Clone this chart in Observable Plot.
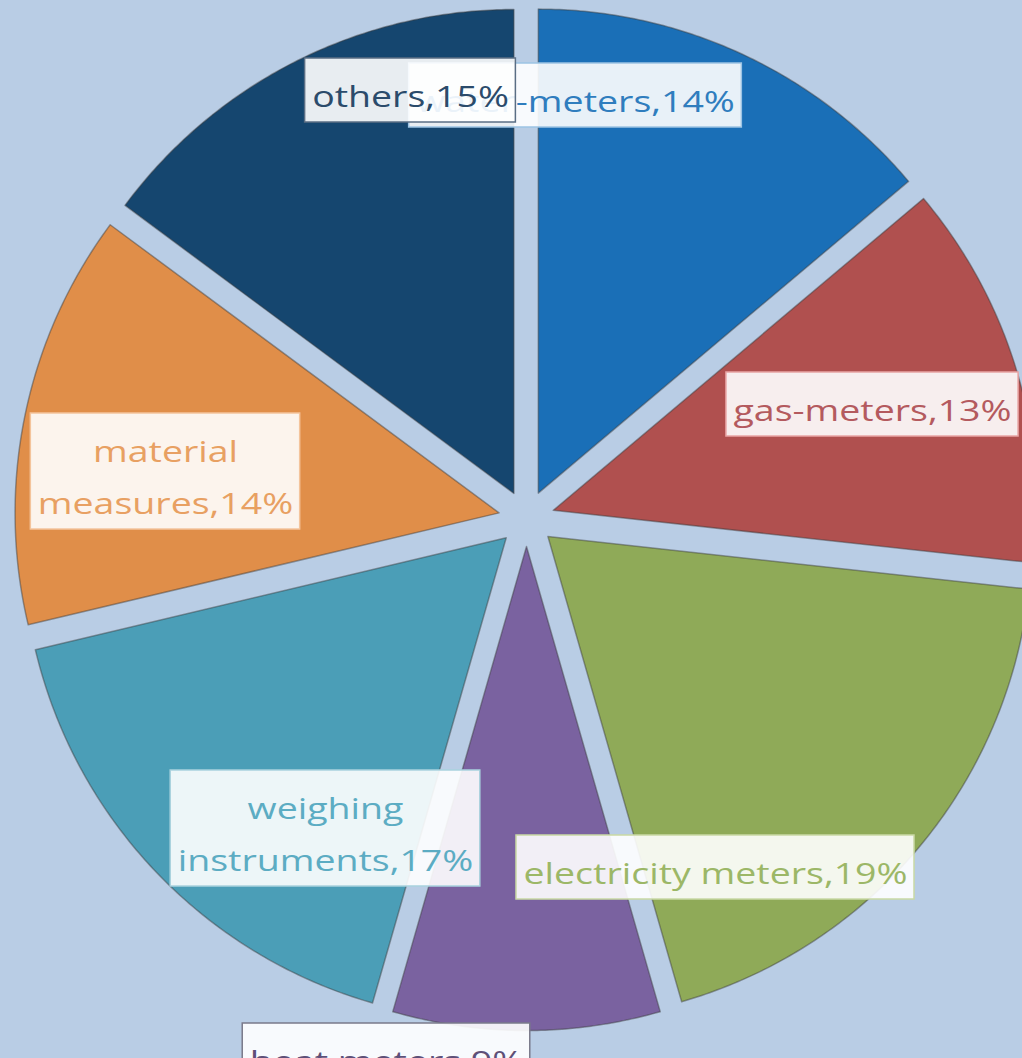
<!DOCTYPE html>
<html>
<head>
<meta charset="utf-8">
<script src="https://cdn.jsdelivr.net/npm/d3@7"></script>
<script src="https://cdn.jsdelivr.net/npm/@observablehq/plot@0.6"></script>
<style>
  html, body { margin: 0; padding: 0; background: #B9CDE5; overflow: hidden; }
  #chart svg { display: block; }
</style>
</head>
<body>
<div id="chart"></div>
<script>
// ---- data ----
const categories = ["water-meters", "gas-meters", "electricity meters", "heat meters", "weighing instruments", "material measures", "others"];
const shares = [14, 13, 19, 9, 17, 14, 15];
const labelTexts = ["water-meters,14%", "gas-meters,13%", "electricity meters,19%", "heat meters,9%", "weighing\ninstruments,17%", "material\nmeasures,14%", "others,15%"];

// ---- styles ----
const sliceColors = ["#1A6FB7", "#B0504F", "#8FAA58", "#7A62A0", "#4B9EB7", "#E08E49", "#15466F"];
const labelColors = ["#2F7DBE", "#B45A5E", "#9CB767", "#5E5078", "#5CACC3", "#E8A062", "#2B4B6B"];
const boxStrokes = ["#9CC3E4", "#E8A4A4", "#C9D9A4", "#7A7A8A", "#A9D2DE", "#F4C49C", "#5A6E84"];

// ---- layout (pixels) ----
const W = 1022, H = 1058;
const CX = 526, CY = 518, R = 484, EXPLODE = 28;
const labelOffsets = [[49, -423], [346, -114], [189, 349], [-140, 537], [-201, 310], [-361, -47], [-116, -428]];
const FONT = 30, STRETCH = 1.25, LINE = 52, PADX = 7, PADY = 6;

const data = categories.map((c, i) => ({category: c, value: shares[i], label: labelTexts[i], i}));
const arcs = d3.pie().sort(null).value(d => d.value)(data);

// polygon outline of each exploded wedge
const wedgePts = arcs.flatMap(a => {
  const mid = (a.startAngle + a.endAngle) / 2;
  const ox = CX + EXPLODE * Math.sin(mid), oy = CY - EXPLODE * Math.cos(mid);
  const n = Math.max(2, Math.ceil((a.endAngle - a.startAngle) / (Math.PI / 360)));
  const pts = [{category: a.data.category, x: ox, y: oy}];
  for (let k = 0; k <= n; k++) {
    const t = a.startAngle + (a.endAngle - a.startAngle) * k / n;
    pts.push({category: a.data.category, x: ox + R * Math.sin(t), y: oy - R * Math.cos(t)});
  }
  return pts;
});

// label boxes sized from measured text
const ctx = document.createElement("canvas").getContext("2d");
ctx.font = `${FONT}px "Open Sans"`;
const labels = data.map((d, i) => {
  const lines = d.label.split("\n");
  const w = d3.max(lines, l => ctx.measureText(l).width) * STRETCH + 2 * PADX;
  const h = lines.length * LINE + 2 * PADY;
  const x = CX + labelOffsets[i][0], y = CY + labelOffsets[i][1];
  return {...d, x, y, x1: x - w / 2, x2: x + w / 2, y1: y - h / 2, y2: y + h / 2};
});

const marks = [
  Plot.line(wedgePts, {
    x: "x", y: "y", z: "category", fill: "category",
    curve: "linear-closed", stroke: "#3a3a3a", strokeOpacity: 0.45, strokeWidth: 1.5
  }),
  ...labels.flatMap((l, i) => [
    Plot.rect([l], {x1: "x1", x2: "x2", y1: "y1", y2: "y2", fill: "white", fillOpacity: 0.9, stroke: boxStrokes[i], strokeWidth: 1.5}),
    Plot.text([l], {x: "x", y: "y", text: "label", fill: labelColors[i], fontSize: FONT, fontFamily: "Open Sans", lineHeight: LINE / FONT, lineAnchor: "middle", textAnchor: "middle"})
  ])
];

const svg = Plot.plot({
  width: W, height: H,
  margin: 0,
  x: {domain: [0, W], range: [0, W], axis: null},
  y: {domain: [0, H], range: [0, H], axis: null},
  color: {domain: categories, range: sliceColors},
  style: {background: "#B9CDE5", overflow: "hidden", fontFamily: "Open Sans"},
  marks
});
document.getElementById("chart").append(svg);

// horizontally widen label glyphs to match the reference lettering
svg.querySelectorAll('g[aria-label="text"] text').forEach(t => {
  const spans = t.querySelectorAll("tspan");
  const targets = spans.length ? [...spans] : [t];
  targets.forEach(el => {
    const L = el.getComputedTextLength();
    el.setAttribute("textLength", L * STRETCH);
    el.setAttribute("lengthAdjust", "spacingAndGlyphs");
  });
});
</script>
</body>
</html>
